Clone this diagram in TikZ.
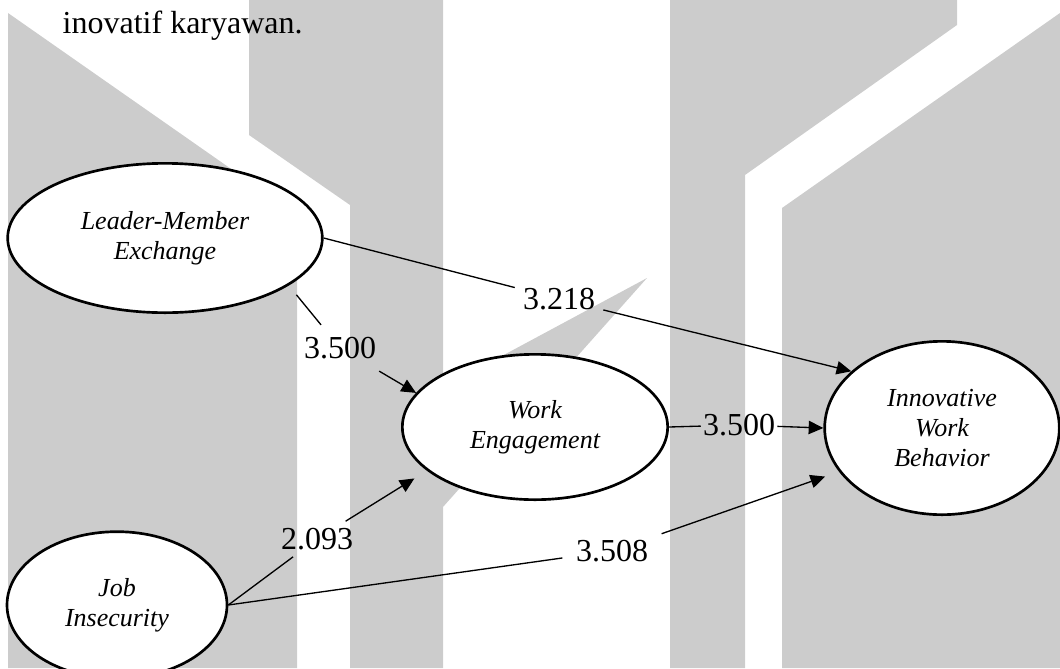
\documentclass[tikz,border=0pt]{standalone}
\usepackage{fontspec}
\setmainfont{Liberation Serif}
\usetikzlibrary{shapes.geometric,arrows.meta}

\begin{document}
\begin{tikzpicture}[x=0.75pt, y=-0.75pt,
  construct/.style={ellipse, draw, line width=2pt, fill=white, inner sep=0pt, align=center,
    font=\itshape\fontsize{19.5}{22.5}\selectfont},
  coef/.style={inner sep=6pt, font=\fontsize{24}{28}\selectfont},
  link/.style={line width=1pt},
  path/.style={line width=1pt, -{Triangle[length=11pt, width=10pt]}}]
 \useasboundingbox (0,0) rectangle (1060,668);

 \fill[black!20] (8,13) -- (297,215) -- (297,668) -- (8,668) -- cycle
   (249,0) -- (443,0) -- (443,668) -- (350,668) -- (350,205) -- (249,135) -- cycle
   (647,278) -- (500,357) -- (443,390) -- (443,507) -- cycle
   (670,0) -- (957,0) -- (957,25) -- (745,175) -- (745,668) -- (670,668) -- cycle
   (1060,13) -- (782,208) -- (782,668) -- (1060,668) -- cycle;

 \node[anchor=base west, font=\fontsize{24}{28}\selectfont] (intro) at (58,33) {inovatif karyawan.};

 \node[construct, minimum width=236pt, minimum height=112pt] (LMX) at (165,238) {Leader-Member\\Exchange};
 \node[construct, minimum width=199pt, minimum height=109pt] (WE) at (535,427) {Work\\Engagement};
 \node[construct, minimum width=176pt, minimum height=130pt] (IWB) at (942,428) {Innovative\\Work\\Behavior};
 \node[construct, minimum width=165pt, minimum height=110pt] (JI) at (117,605) {Job\\Insecurity};

 \node[coef] (b1) at (559,299) {3.218};
 \node[coef, inner sep=9pt] (b2) at (340,348) {3.500};
 \node[coef, inner sep=1.5pt] (b3) at (739,425) {3.500};
 \node[coef, inner sep=5pt] (b4) at (317,539) {2.093};
 \node[coef, inner sep=10pt] (b5) at (612,551) {3.508};

 \draw[link] (LMX.east) -- (b1);
 \draw[path] (b1) -- (IWB.148);
 \draw[link, shorten <=9pt] (LMX.-21) -- (b2);
 \draw[path] (b2) -- (WE.164);
 \draw[link] (WE.east) -- (b3);
 \draw[path] (b3) -- (IWB.west);
 \draw[link] (JI.east) -- (b4);
 \draw[path, shorten >=11pt] (b4) -- (WE.202);
 \draw[link] (JI.east) -- (b5);
 \draw[path, shorten >=11pt] (b5) -- (IWB.203);
\end{tikzpicture}
\end{document}
